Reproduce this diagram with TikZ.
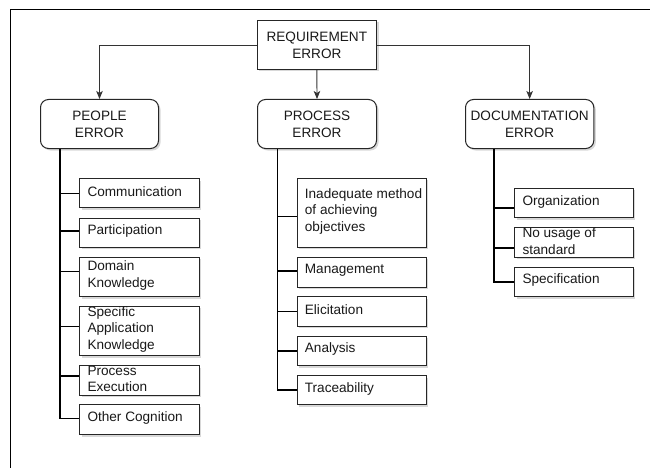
\documentclass[tikz,border=0pt]{standalone}
\usepackage{fontspec}
\setmainfont{Liberation Sans}
\usetikzlibrary{arrows.meta,shadows,calc}
\begin{document}
\begin{tikzpicture}[x=1pt,y=-1pt,
  font=\fontsize{13.6}{16.7}\selectfont,
  every node/.style={text=black!90},
  frameline/.style={draw=black,line width=1pt},
  topbox/.style={draw=black!85,line width=1pt,fill=white,inner sep=0pt,align=center,anchor=north west,
     drop shadow={shadow xshift=2pt,shadow yshift=-2pt,fill=black!30,opacity=0.5}},
  parbox/.style={topbox,rounded corners=8pt},
  cbox/.style={draw=black!85,line width=1pt,fill=white,inner sep=0pt,anchor=north west,
     drop shadow={shadow xshift=2pt,shadow yshift=-2pt,fill=black!30,opacity=0.5}},
  ctext/.style={anchor=west,align=left,inner sep=0pt,yshift=1.5pt},
  arr/.style={draw=black!80,line width=0.9pt,-{Stealth[length=8pt,width=6.5pt,inset=2pt]}},
  conn/.style={draw=black,line width=1.5pt}
]
\useasboundingbox (0,0) rectangle (650,468);
\draw[frameline] (10,468) -- (10,10) -- (650,10);

% top level
\node[topbox,minimum width=119.3pt,minimum height=49pt] (req) at (256.7,20) {REQUIREMENT\\ERROR};
\node[parbox,minimum width=118pt,minimum height=49pt] (people) at (40,99) {PEOPLE\\ERROR};
\node[parbox,minimum width=119pt,minimum height=49pt] (proc) at (257,99) {PROCESS\\ERROR};
\node[parbox,minimum width=128.3pt,minimum height=49pt] (doc) at (465,99) {DOCUMENTATION\\ERROR};

\draw[arr] (req.west) -| (people.north);
\draw[arr] (req.south) -- (proc.north);
\draw[arr] (req.east) -| (doc.north);

% people children
\node[cbox,minimum width=119.4pt,minimum height=29pt] (c1) at (79.3,178.3) {};
\node[cbox,minimum width=119.4pt,minimum height=29pt] (c2) at (79.3,217.7) {};
\node[cbox,minimum width=119.4pt,minimum height=39.3pt] (c3) at (79.3,256.7) {};
\node[cbox,minimum width=119.4pt,minimum height=49.3pt] (c4) at (79.3,305.7) {};
\node[cbox,minimum width=119.4pt,minimum height=29.7pt] (c5) at (79.3,365) {};
\node[cbox,minimum width=119.4pt,minimum height=29.7pt] (c6) at (79.3,404.3) {};
\node[ctext] (c1t) at ([xshift=8pt]c1.west) {Communication};
\node[ctext] (c2t) at ([xshift=8pt]c2.west) {Participation};
\node[ctext] (c3t) at ([xshift=8pt]c3.west) {Domain\\Knowledge};
\node[ctext] (c4t) at ([xshift=8pt]c4.west) {Specific\\Application\\Knowledge};
\node[ctext] (c5t) at ([xshift=8pt]c5.west) {Process\\Execution};
\node[ctext] (c6t) at ([xshift=8pt]c6.west) {Other Cognition};

\coordinate (pb) at ([xshift=20pt]people.south west);
\draw[conn] (pb) |- ([yshift=0pt]c1.west);
\draw[conn] (pb) |- ([yshift=1.5pt]c2.west);
\draw[conn] (pb) |- ([yshift=5.6pt]c3.west);
\draw[conn] (pb) |- ([yshift=4.6pt]c4.west);
\draw[conn] (pb) |- ([yshift=4.3pt]c5.west);
\draw[conn] (pb) |- ([yshift=1pt]c6.west);

% process children
\node[cbox,minimum width=129pt,minimum height=69pt] (d1) at (296.7,177.7) {};
\node[cbox,minimum width=129pt,minimum height=30pt] (d2) at (296.7,256.7) {};
\node[cbox,minimum width=129pt,minimum height=29.7pt] (d3) at (296.7,296) {};
\node[cbox,minimum width=129pt,minimum height=29.3pt] (d4) at (296.7,335.7) {};
\node[cbox,minimum width=129pt,minimum height=29.3pt] (d5) at (296.7,375) {};
\node[ctext] (d1t) at ([xshift=8pt]d1.west) {Inadequate method\\of achieving\\objectives};
\node[ctext] (d2t) at ([xshift=8pt]d2.west) {Management};
\node[ctext] (d3t) at ([xshift=8pt]d3.west) {Elicitation};
\node[ctext] (d4t) at ([xshift=8pt]d4.west) {Analysis};
\node[ctext] (d5t) at ([xshift=8pt]d5.west) {Traceability};

\coordinate (qb) at ([xshift=20.3pt]proc.south west);
\draw[conn] (qb) |- ([yshift=-3.8pt]d1.west);
\draw[conn] (qb) |- ([yshift=1pt]d2.west);
\draw[conn] (qb) |- (d3.west);
\draw[conn] (qb) |- (d4.west);
\draw[conn] (qb) |- (d5.west);

% documentation children
\node[cbox,minimum width=118.4pt,minimum height=29.6pt] (e1) at (514.3,187.7) {};
\node[cbox,minimum width=118.4pt,minimum height=29.4pt] (e2) at (514.3,227.3) {};
\node[cbox,minimum width=118.4pt,minimum height=29.3pt] (e3) at (514.3,266.7) {};
\node[ctext] (e1t) at ([xshift=8pt]e1.west) {Organization};
\node[ctext] (e2t) at ([xshift=8pt]e2.west) {No usage of\\standard};
\node[ctext] (e3t) at ([xshift=8pt]e3.west) {Specification};

\coordinate (rb) at ([xshift=29pt]doc.south west);
\draw[conn] (rb) |- ([yshift=-4.8pt]e1.west);
\draw[conn] (rb) |- ([yshift=-5.3pt]e2.west);
\draw[conn] (rb) |- (e3.west);
\end{tikzpicture}
\end{document}
